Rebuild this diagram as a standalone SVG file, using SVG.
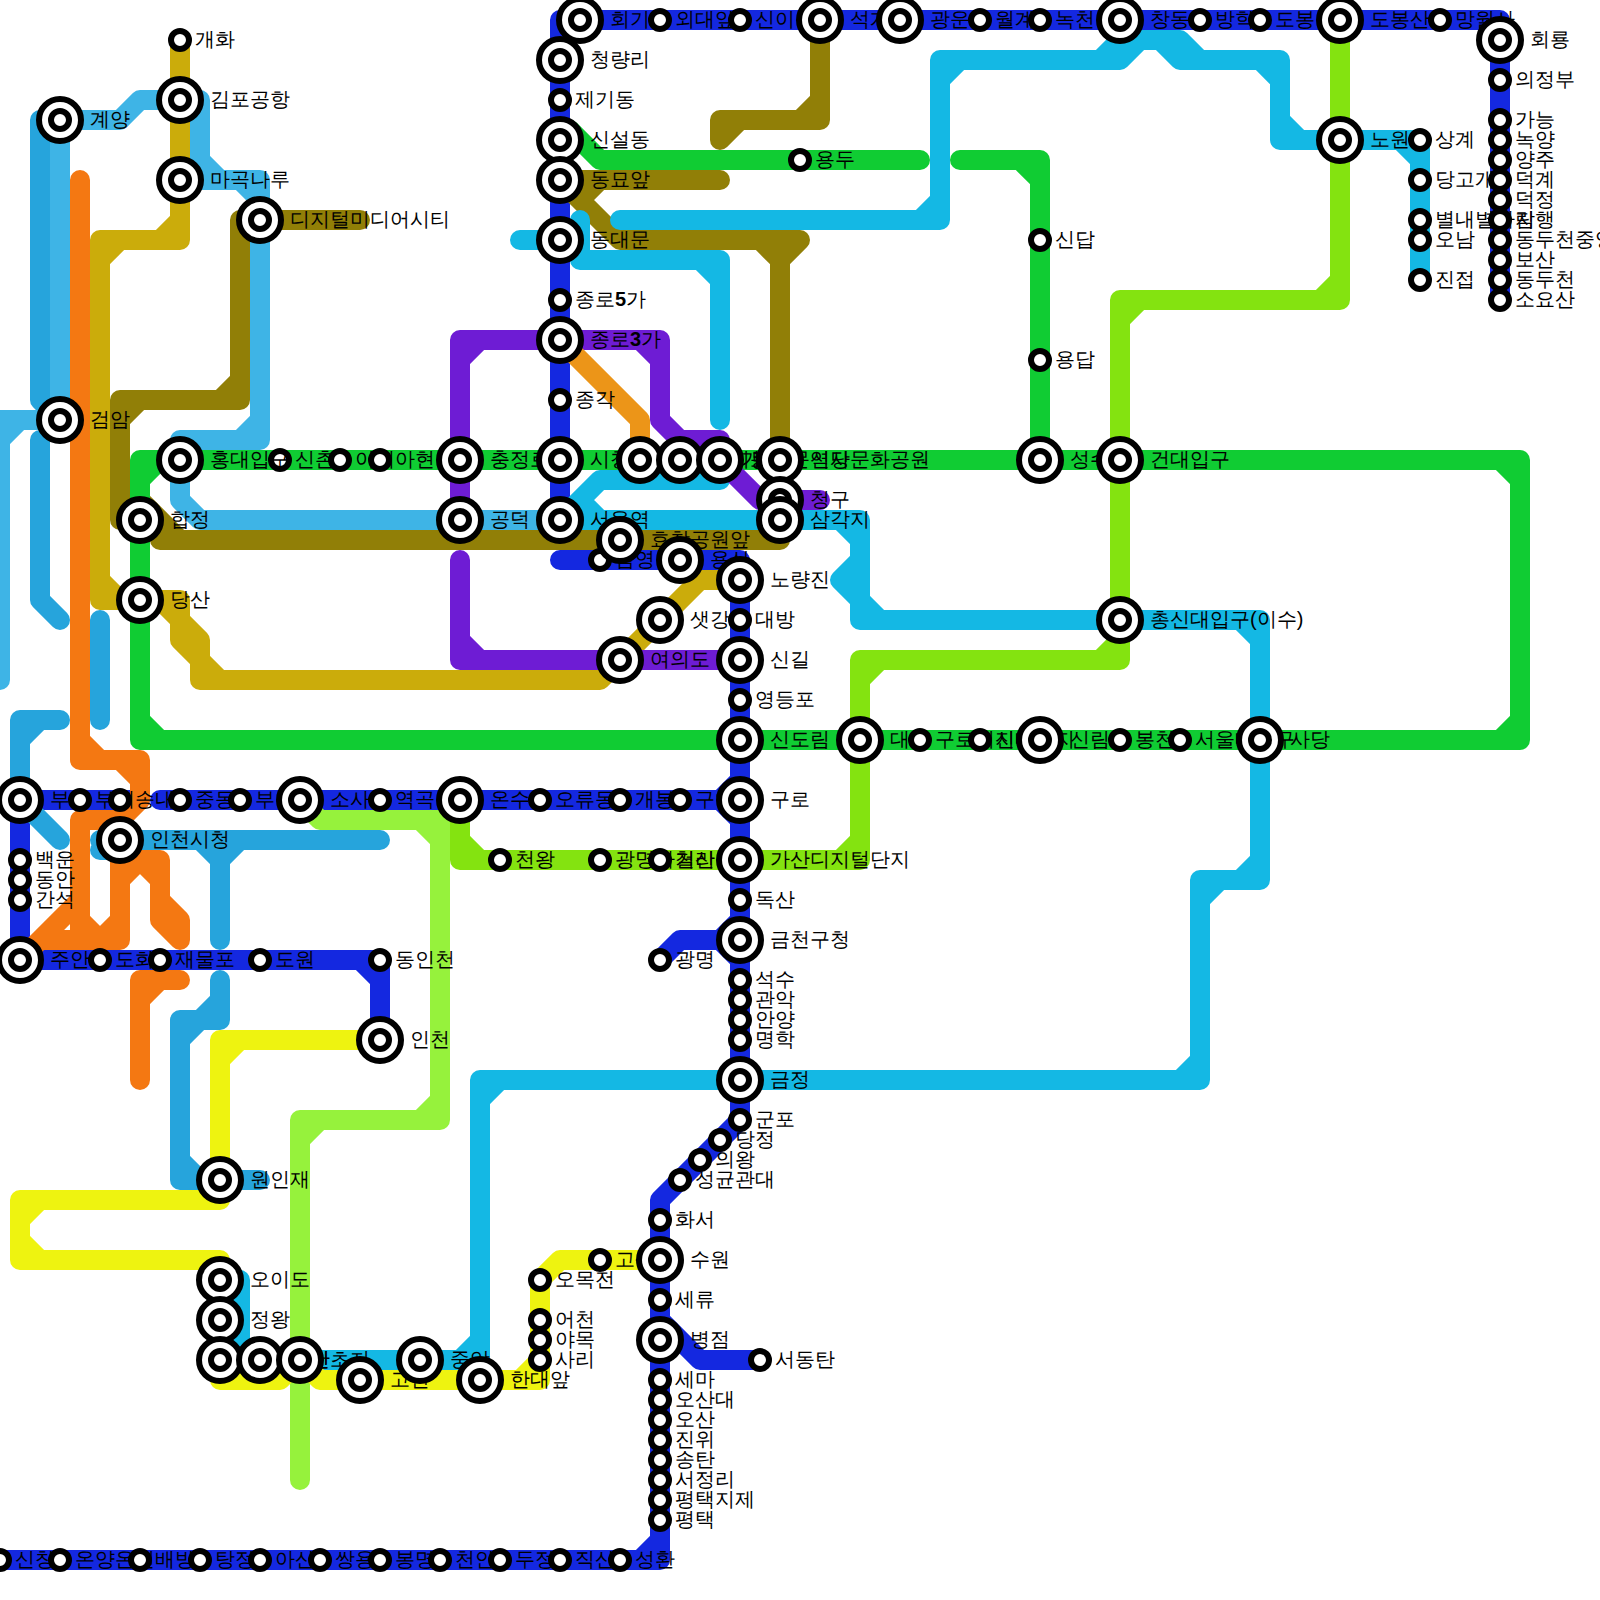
<svg xmlns="http://www.w3.org/2000/svg" width="1600" height="1600" viewBox="0 0 1600 1600">
<style>
#lines path{fill:none;stroke-width:20;stroke-linecap:round;stroke-linejoin:round}
.o{fill:#fff;stroke:#000;stroke-width:6}
text{font-family:"Liberation Sans",sans-serif;font-size:20px;fill:#000;transform:translate(0,-1px)}
use[href="#s"]+text{transform:translate(-1px,-1px)}
.d{font-weight:700}
</style>
<defs>
<g id="s"><circle class="o" r="9"/></g>
<g id="b"><circle class="o" r="21"/><circle class="o" r="9"/></g>
</defs>
<rect width="1600" height="1600" fill="#fff"/>
<g id="lines">
<path stroke="#1428E0" d="M560 520V20H1500V300M20 800H140M160 800H740M720 800L740 780M720 800L740 820M20 800V960H380V1040M360 960L380 980M560 560H740V1120L660 1200V1560H0M640 1560L660 1540M660 960L680 940H720M740 920L720 940L740 960M660 1320L700 1360H760"/>
<path stroke="#26A4DC" d="M60 120H40V400L60 420M40 440V600L60 620M100 620V720M60 720H20V800L60 840M20 740L40 720M100 840H380M100 850H120M200 840L220 860L240 840M220 860V940M220 980V1020H180V1180H260M200 1020L220 1000M180 1040L200 1020M180 1160L200 1180"/>
<path stroke="#3EB4E6" d="M0 680V420H60M0 440L20 420M60 120V420M60 120H120L140 100H200V160L220 180M180 180H260V440H180V500L200 520H560M240 180L260 200M240 440L260 420"/>
<path stroke="#CBAC0B" d="M180 40V240H100V600H180V640L200 660V680H600L700 580H740M160 240L180 220M100 260L120 240M100 580L120 600M160 600L180 620L200 640V660M200 660L220 680"/>
<path stroke="#917F07" d="M820 20V120H720V140L740 120M800 120L820 100M560 180H720M560 180L620 240H800L780 260V460M580 200L600 180M760 240L780 260M360 220H240V400H120V520H160V540H780V520M220 400L240 380M120 420L140 400M120 500L140 520M140 500L180 540M760 540L780 520"/>
<path stroke="#14B8E4" d="M1420 280V140H1280V60H1180L1160 40H1140L1120 60H940V220H620M1120 40H1180M1400 140L1420 160M1280 120L1300 140M1260 60L1280 80M1180 40L1200 60M1100 60L1120 40M940 80L960 60M920 220L940 200M520 240H560M580 220V260H720V420M700 260L720 280M720 480H600L560 520H860V620H1260V880H1200V1080H480V1360H220M580 500L600 520M840 520L860 540M860 560L840 580L860 600M860 600L880 620M1240 620L1260 640M1240 880L1260 860M1200 900L1220 880M1180 1080L1200 1060M480 1100L500 1080M460 1360L480 1340M220 1280H240V1340L220 1360"/>
<path stroke="#10CC33" d="M140 460H1520V740H140ZM140 480L160 460M1500 460L1520 480M1500 740L1520 720M140 720L160 740M570 130L600 160H920M960 160H1040V460M1020 160L1040 180"/>
<path stroke="#6E1CD4" d="M460 520V340H660V420L680 440H720V460L760 500H820M460 360L480 340M640 340L660 360M460 560V660H740M460 640L480 660"/>
<path stroke="#EC9518" d="M560 340L640 420V460"/>
<path stroke="#84E310" d="M1340 20V300H1120V660H860V860H460V800M1320 300L1340 280M1120 320L1140 300M1100 660L1120 640M860 680L880 660M840 860L860 840M460 840L480 860"/>
<path stroke="#96F23C" d="M300 800L320 820H440V1120H300V1480M420 820L440 840M420 1120L440 1100M300 1140L320 1120"/>
<path stroke="#EEF310" d="M380 1040H220V1200H20V1260H220V1380H280M320 1380H540V1280L560 1260H660M220 1060L240 1040M20 1220L40 1200M20 1240L40 1260M520 1380L540 1360M280 1380L300 1360L320 1380"/>
<path stroke="#F47812" d="M80 180V760H140V800L120 820H80V940M80 900L20 960M80 740L100 760M120 760L140 780M40 940H120V840M80 920L100 940L120 920M120 860H160V920L180 940V920L160 900M120 880L140 860L160 880M180 980H140V1080M140 1000L160 980"/>
</g>
<g id="n1"><use href="#s" x="1420" y="140"/><text x="1436" y="147">상계</text></g>
<g id="n2"><use href="#s" x="1420" y="180"/><text x="1436" y="187">당고개</text></g>
<g id="n3"><use href="#s" x="1420" y="220"/><text x="1436" y="227">별내별가람</text></g>
<g id="n4"><use href="#s" x="1420" y="240"/><text x="1436" y="247">오남</text></g>
<g id="n5"><use href="#s" x="1420" y="280"/><text x="1436" y="287">진접</text></g>
<g id="n6"><use href="#b" x="1340" y="140"/><text x="1370" y="147">노원</text></g>
<g id="n7"><use href="#b" x="580" y="20"/><text x="610" y="27">회기</text></g>
<g id="n8"><use href="#s" x="660" y="20"/><text x="676" y="27">외대앞</text></g>
<g id="n9"><use href="#s" x="740" y="20"/><text x="756" y="27">신이문</text></g>
<g id="n10"><use href="#b" x="820" y="20"/><text x="850" y="27">석계</text></g>
<g id="n11"><use href="#b" x="900" y="20"/><text x="930" y="27">광운대</text></g>
<g id="n12"><use href="#s" x="980" y="20"/><text x="996" y="27">월계</text></g>
<g id="n13"><use href="#s" x="1040" y="20"/><text x="1056" y="27">녹천</text></g>
<g id="n14"><use href="#b" x="1120" y="20"/><text x="1150" y="27">창동</text></g>
<g id="n15"><use href="#s" x="1200" y="20"/><text x="1216" y="27">방학</text></g>
<g id="n16"><use href="#s" x="1260" y="20"/><text x="1276" y="27">도봉</text></g>
<g id="n17"><use href="#b" x="1340" y="20"/><text x="1370" y="27">도봉산</text></g>
<g id="n18"><use href="#s" x="1440" y="20"/><text x="1456" y="27">망월사</text></g>
<g id="n19"><use href="#b" x="1500" y="40"/><text x="1530" y="47">회룡</text></g>
<g id="n20"><use href="#s" x="1500" y="80"/><text x="1516" y="87">의정부</text></g>
<g id="n21"><use href="#s" x="1500" y="120"/><text x="1516" y="127">가능</text></g>
<g id="n22"><use href="#s" x="1500" y="140"/><text x="1516" y="147">녹양</text></g>
<g id="n23"><use href="#s" x="1500" y="160"/><text x="1516" y="167">양주</text></g>
<g id="n24"><use href="#s" x="1500" y="180"/><text x="1516" y="187">덕계</text></g>
<g id="n25"><use href="#s" x="1500" y="200"/><text x="1516" y="207">덕정</text></g>
<g id="n26"><use href="#s" x="1500" y="220"/><text x="1516" y="227">지행</text></g>
<g id="n27"><use href="#s" x="1500" y="240"/><text x="1516" y="247">동두천중앙</text></g>
<g id="n28"><use href="#s" x="1500" y="260"/><text x="1516" y="267">보산</text></g>
<g id="n29"><use href="#s" x="1500" y="280"/><text x="1516" y="287">동두천</text></g>
<g id="n30"><use href="#s" x="1500" y="300"/><text x="1516" y="307">소요산</text></g>
<g id="n31"><use href="#b" x="560" y="60"/><text x="590" y="67">청량리</text></g>
<g id="n32"><use href="#s" x="560" y="100"/><text x="576" y="107">제기동</text></g>
<g id="n33"><use href="#b" x="560" y="140"/><text x="590" y="147">신설동</text></g>
<g id="n34"><use href="#b" x="560" y="180"/><text x="590" y="187">동묘앞</text></g>
<g id="n35"><use href="#b" x="560" y="240"/><text x="590" y="247">동대문</text></g>
<g id="n36"><use href="#s" x="560" y="300"/><text x="576" y="307">종로<tspan class="d">5</tspan>가</text></g>
<g id="n37"><use href="#b" x="560" y="340"/><text x="590" y="347">종로<tspan class="d">3</tspan>가</text></g>
<g id="n38"><use href="#s" x="560" y="400"/><text x="576" y="407">종각</text></g>
<g id="n39"><use href="#s" x="180" y="40"/><text x="196" y="47">개화</text></g>
<g id="n40"><use href="#b" x="180" y="100"/><text x="210" y="107">김포공항</text></g>
<g id="n41"><use href="#b" x="180" y="180"/><text x="210" y="187">마곡나루</text></g>
<g id="n42"><use href="#b" x="60" y="120"/><text x="90" y="127">계양</text></g>
<g id="n43"><use href="#b" x="60" y="420"/><text x="90" y="427">검암</text></g>
<g id="n44"><use href="#b" x="260" y="220"/><text x="290" y="227">디지털미디어시티</text></g>
<g id="n45"><use href="#s" x="280" y="460"/><text x="296" y="467">신촌</text></g>
<g id="n46"><use href="#s" x="340" y="460"/><text x="356" y="467">이대</text></g>
<g id="n47"><use href="#s" x="380" y="460"/><text x="396" y="467">아현</text></g>
<g id="n48"><use href="#b" x="180" y="460"/><text x="210" y="467">홍대입구</text></g>
<g id="n49"><use href="#b" x="460" y="460"/><text x="490" y="467">충정로</text></g>
<g id="n50"><use href="#b" x="560" y="460"/><text x="590" y="467">시청</text></g>
<g id="n51"><use href="#b" x="640" y="460"/><text x="670" y="467">을지로<tspan class="d">3</tspan>가</text></g>
<g id="n52"><use href="#b" x="680" y="460"/><text x="710" y="467">을지로<tspan class="d">4</tspan>가</text></g>
<g id="n53"><use href="#b" x="720" y="460"/><text x="750" y="467">동대문역사문화공원</text></g>
<g id="n54"><use href="#b" x="780" y="460"/><text x="810" y="467">신당</text></g>
<g id="n55"><use href="#b" x="780" y="500"/><text x="810" y="507">청구</text></g>
<g id="n56"><use href="#b" x="780" y="520"/><text x="810" y="527">삼각지</text></g>
<g id="n57"><use href="#s" x="800" y="160"/><text x="816" y="167">용두</text></g>
<g id="n58"><use href="#s" x="1040" y="240"/><text x="1056" y="247">신답</text></g>
<g id="n59"><use href="#s" x="1040" y="360"/><text x="1056" y="367">용답</text></g>
<g id="n60"><use href="#b" x="1040" y="460"/><text x="1070" y="467">성수</text></g>
<g id="n61"><use href="#b" x="1120" y="460"/><text x="1150" y="467">건대입구</text></g>
<g id="n62"><use href="#b" x="140" y="520"/><text x="170" y="527">합정</text></g>
<g id="n63"><use href="#b" x="140" y="600"/><text x="170" y="607">당산</text></g>
<g id="n64"><use href="#b" x="460" y="520"/><text x="490" y="527">공덕</text></g>
<g id="n65"><use href="#b" x="560" y="520"/><text x="590" y="527">서울역</text></g>
<g id="n66"><use href="#s" x="600" y="560"/><text x="616" y="567">남영</text></g>
<g id="n67"><use href="#b" x="620" y="540"/><text x="650" y="547">효창공원앞</text></g>
<g id="n68"><use href="#b" x="680" y="560"/><text x="710" y="567">용산</text></g>
<g id="n69"><use href="#b" x="740" y="580"/><text x="770" y="587">노량진</text></g>
<g id="n70"><use href="#b" x="660" y="620"/><text x="690" y="627">샛강</text></g>
<g id="n71"><use href="#s" x="740" y="620"/><text x="756" y="627">대방</text></g>
<g id="n72"><use href="#b" x="620" y="660"/><text x="650" y="667">여의도</text></g>
<g id="n73"><use href="#b" x="740" y="660"/><text x="770" y="667">신길</text></g>
<g id="n74"><use href="#s" x="740" y="700"/><text x="756" y="707">영등포</text></g>
<g id="n75"><use href="#b" x="740" y="740"/><text x="770" y="747">신도림</text></g>
<g id="n76"><use href="#b" x="860" y="740"/><text x="890" y="747">대림</text></g>
<g id="n77"><use href="#s" x="920" y="740"/><text x="936" y="747">구로디지털단지</text></g>
<g id="n78"><use href="#s" x="980" y="740"/><text x="996" y="747">신대방</text></g>
<g id="n79"><use href="#b" x="1040" y="740"/><text x="1070" y="747">신림</text></g>
<g id="n80"><use href="#s" x="1120" y="740"/><text x="1136" y="747">봉천</text></g>
<g id="n81"><use href="#s" x="1180" y="740"/><text x="1196" y="747">서울대입구</text></g>
<g id="n82"><use href="#b" x="1260" y="740"/><text x="1290" y="747">사당</text></g>
<g id="n83"><use href="#b" x="1120" y="620"/><text x="1150" y="627">총신대입구(이수)</text></g>
<g id="n84"><use href="#b" x="20" y="800"/><text x="50" y="807">부평</text></g>
<g id="n85"><use href="#s" x="80" y="800"/><text x="96" y="807">부개</text></g>
<g id="n86"><use href="#s" x="120" y="800"/><text x="136" y="807">송내</text></g>
<g id="n87"><use href="#s" x="180" y="800"/><text x="196" y="807">중동</text></g>
<g id="n88"><use href="#s" x="240" y="800"/><text x="256" y="807">부천</text></g>
<g id="n89"><use href="#b" x="300" y="800"/><text x="330" y="807">소사</text></g>
<g id="n90"><use href="#s" x="380" y="800"/><text x="396" y="807">역곡</text></g>
<g id="n91"><use href="#b" x="460" y="800"/><text x="490" y="807">온수</text></g>
<g id="n92"><use href="#s" x="540" y="800"/><text x="556" y="807">오류동</text></g>
<g id="n93"><use href="#s" x="620" y="800"/><text x="636" y="807">개봉</text></g>
<g id="n94"><use href="#s" x="680" y="800"/><text x="696" y="807">구일</text></g>
<g id="n95"><use href="#b" x="740" y="800"/><text x="770" y="807">구로</text></g>
<g id="n96"><use href="#b" x="120" y="840"/><text x="150" y="847">인천시청</text></g>
<g id="n97"><use href="#s" x="500" y="860"/><text x="516" y="867">천왕</text></g>
<g id="n98"><use href="#s" x="600" y="860"/><text x="616" y="867">광명사거리</text></g>
<g id="n99"><use href="#s" x="660" y="860"/><text x="676" y="867">철산</text></g>
<g id="n100"><use href="#b" x="740" y="860"/><text x="770" y="867">가산디지털단지</text></g>
<g id="n101"><use href="#s" x="740" y="900"/><text x="756" y="907">독산</text></g>
<g id="n102"><use href="#b" x="740" y="940"/><text x="770" y="947">금천구청</text></g>
<g id="n103"><use href="#s" x="660" y="960"/><text x="676" y="967">광명</text></g>
<g id="n104"><use href="#s" x="740" y="980"/><text x="756" y="987">석수</text></g>
<g id="n105"><use href="#s" x="740" y="1000"/><text x="756" y="1007">관악</text></g>
<g id="n106"><use href="#s" x="740" y="1020"/><text x="756" y="1027">안양</text></g>
<g id="n107"><use href="#s" x="740" y="1040"/><text x="756" y="1047">명학</text></g>
<g id="n108"><use href="#b" x="740" y="1080"/><text x="770" y="1087">금정</text></g>
<g id="n109"><use href="#s" x="740" y="1120"/><text x="756" y="1127">군포</text></g>
<g id="n110"><use href="#s" x="720" y="1140"/><text x="736" y="1147">당정</text></g>
<g id="n111"><use href="#s" x="700" y="1160"/><text x="716" y="1167">의왕</text></g>
<g id="n112"><use href="#s" x="680" y="1180"/><text x="696" y="1187">성균관대</text></g>
<g id="n113"><use href="#s" x="660" y="1220"/><text x="676" y="1227">화서</text></g>
<g id="n114"><use href="#s" x="600" y="1260"/><text x="616" y="1267">고색</text></g>
<g id="n115"><use href="#b" x="660" y="1260"/><text x="690" y="1267">수원</text></g>
<g id="n116"><use href="#s" x="660" y="1300"/><text x="676" y="1307">세류</text></g>
<g id="n117"><use href="#b" x="660" y="1340"/><text x="690" y="1347">병점</text></g>
<g id="n118"><use href="#s" x="760" y="1360"/><text x="776" y="1367">서동탄</text></g>
<g id="n119"><use href="#s" x="660" y="1380"/><text x="676" y="1387">세마</text></g>
<g id="n120"><use href="#s" x="660" y="1400"/><text x="676" y="1407">오산대</text></g>
<g id="n121"><use href="#s" x="660" y="1420"/><text x="676" y="1427">오산</text></g>
<g id="n122"><use href="#s" x="660" y="1440"/><text x="676" y="1447">진위</text></g>
<g id="n123"><use href="#s" x="660" y="1460"/><text x="676" y="1467">송탄</text></g>
<g id="n124"><use href="#s" x="660" y="1480"/><text x="676" y="1487">서정리</text></g>
<g id="n125"><use href="#s" x="660" y="1500"/><text x="676" y="1507">평택지제</text></g>
<g id="n126"><use href="#s" x="660" y="1520"/><text x="676" y="1527">평택</text></g>
<g id="n127"><use href="#s" x="0" y="1560"/><text x="16" y="1567">신창</text></g>
<g id="n128"><use href="#s" x="60" y="1560"/><text x="76" y="1567">온양온천</text></g>
<g id="n129"><use href="#s" x="140" y="1560"/><text x="156" y="1567">배방</text></g>
<g id="n130"><use href="#s" x="200" y="1560"/><text x="216" y="1567">탕정</text></g>
<g id="n131"><use href="#s" x="260" y="1560"/><text x="276" y="1567">아산</text></g>
<g id="n132"><use href="#s" x="320" y="1560"/><text x="336" y="1567">쌍용</text></g>
<g id="n133"><use href="#s" x="380" y="1560"/><text x="396" y="1567">봉명</text></g>
<g id="n134"><use href="#s" x="440" y="1560"/><text x="456" y="1567">천안</text></g>
<g id="n135"><use href="#s" x="500" y="1560"/><text x="516" y="1567">두정</text></g>
<g id="n136"><use href="#s" x="560" y="1560"/><text x="576" y="1567">직산</text></g>
<g id="n137"><use href="#s" x="620" y="1560"/><text x="636" y="1567">성환</text></g>
<g id="n138"><use href="#s" x="20" y="860"/><text x="36" y="867">백운</text></g>
<g id="n139"><use href="#s" x="20" y="880"/><text x="36" y="887">동안</text></g>
<g id="n140"><use href="#s" x="20" y="900"/><text x="36" y="907">간석</text></g>
<g id="n141"><use href="#b" x="20" y="960"/><text x="50" y="967">주안</text></g>
<g id="n142"><use href="#s" x="100" y="960"/><text x="116" y="967">도화</text></g>
<g id="n143"><use href="#s" x="160" y="960"/><text x="176" y="967">재물포</text></g>
<g id="n144"><use href="#s" x="260" y="960"/><text x="276" y="967">도원</text></g>
<g id="n145"><use href="#s" x="380" y="960"/><text x="396" y="967">동인천</text></g>
<g id="n146"><use href="#b" x="380" y="1040"/><text x="410" y="1047">인천</text></g>
<g id="n147"><use href="#b" x="220" y="1180"/><text x="250" y="1187">원인재</text></g>
<g id="n148"><use href="#b" x="220" y="1280"/><text x="250" y="1287">오이도</text></g>
<g id="n149"><use href="#b" x="220" y="1320"/><text x="250" y="1327">정왕</text></g>
<g id="n150"><use href="#b" x="220" y="1360"/><text x="250" y="1367">신길온천</text></g>
<g id="n151"><use href="#b" x="260" y="1360"/><text x="290" y="1367">안산</text></g>
<g id="n152"><use href="#b" x="300" y="1360"/><text x="330" y="1367">초지</text></g>
<g id="n153"><use href="#b" x="360" y="1380"/><text x="390" y="1387">고잔</text></g>
<g id="n154"><use href="#b" x="420" y="1360"/><text x="450" y="1367">중앙</text></g>
<g id="n155"><use href="#b" x="480" y="1380"/><text x="510" y="1387">한대앞</text></g>
<g id="n156"><use href="#s" x="540" y="1280"/><text x="556" y="1287">오목전</text></g>
<g id="n157"><use href="#s" x="540" y="1320"/><text x="556" y="1327">어천</text></g>
<g id="n158"><use href="#s" x="540" y="1340"/><text x="556" y="1347">야목</text></g>
<g id="n159"><use href="#s" x="540" y="1360"/><text x="556" y="1367">사리</text></g>
</svg>
